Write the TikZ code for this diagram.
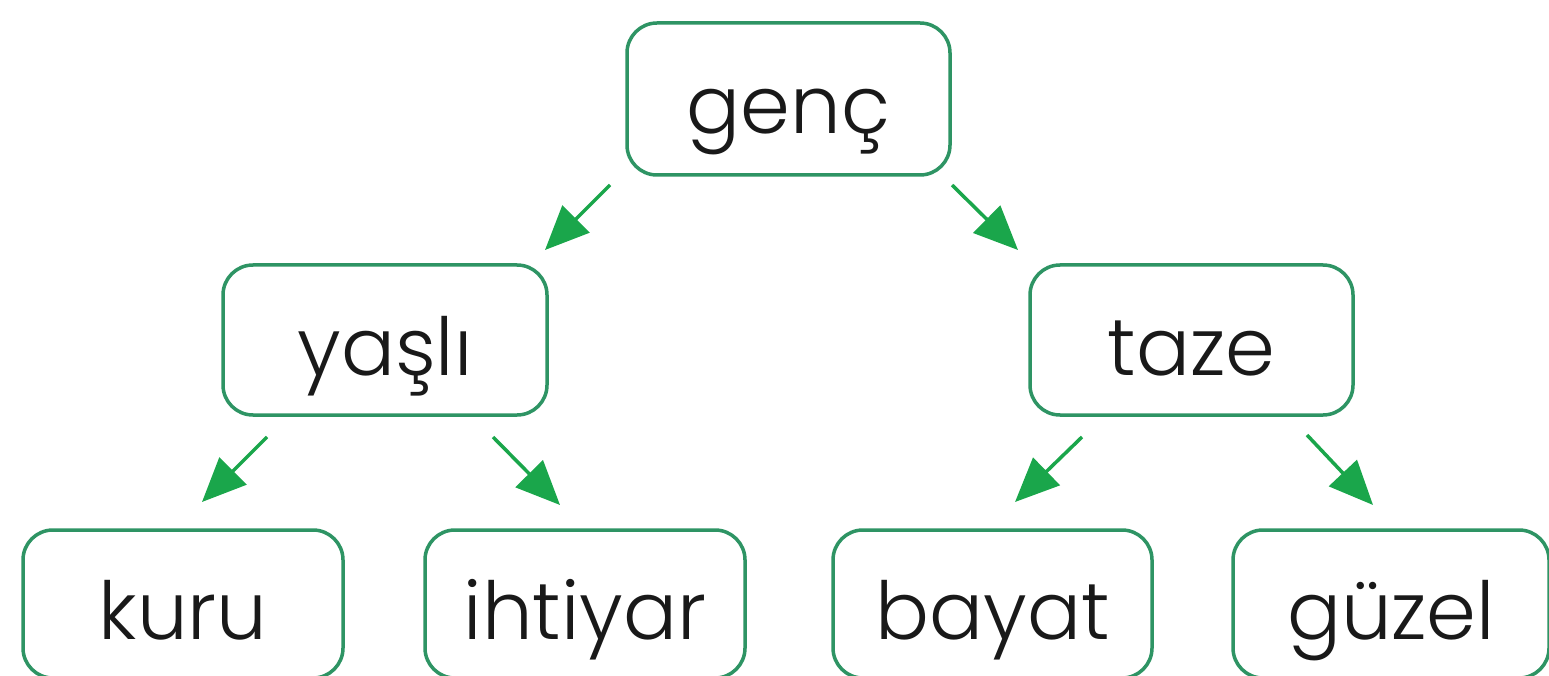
\documentclass[tikz,border=0pt]{standalone}
\usepackage{fontspec}
\setmainfont{Poppins}[UprightFont={* Light}]
\usetikzlibrary{arrows.meta,calc}
\definecolor{boxgreen}{RGB}{46,148,100}
\definecolor{arrgreen}{RGB}{26,166,75}
\definecolor{txt}{RGB}{25,25,25}
\tikzset{
  wordbox/.style={draw=boxgreen, line width=3.5pt, rounded corners=30pt, fill=white,
    inner sep=0pt, outer sep=0pt, text=txt, font=\fontsize{80}{84}\selectfont,
    text height=70pt, text depth=0pt},
  arr/.style={draw=arrgreen, line width=3.5pt, -{Triangle[length=44pt,width=38pt]}}
}
\begin{document}
\begin{tikzpicture}[x=1pt,y=-1pt]
\fill[white] (0,0) rectangle (1549,676);
\useasboundingbox (0,0) rectangle (1549,676);
\node[wordbox, minimum width=323pt, minimum height=152pt] (genc) at (788.5,99) {genç};
\node[wordbox, minimum width=324pt, minimum height=150pt] (yasli) at (385,340) {yaşlı};
\node[wordbox, minimum width=323pt, minimum height=150pt] (taze) at (1191.5,340) {taze};
\node[wordbox, minimum width=320pt, minimum height=148pt] (kuru) at (183,604) {kuru};
\node[wordbox, minimum width=320pt, minimum height=148pt] (ihtiyar) at (585,604) {ihtiyar};
\node[wordbox, minimum width=319pt, minimum height=148pt] (bayat) at (992.5,604) {bayat};
\node[wordbox, minimum width=316pt, minimum height=148pt] (guzel) at (1391,604) {güzel};
\draw[arr] ($(genc.south west)+(-17,10)$) -- ($(yasli.north east)+(-2,-15)$);
\draw[arr] ($(genc.south east)+(2,10)$) -- ($(taze.north west)+(-12,-15)$);
\draw[arr] ($(yasli.south west)+(44,22)$) -- ($(kuru.north)+(19,-28)$);
\draw[arr] ($(yasli.south east)+(-54,22)$) -- ($(ihtiyar.north)+(-25,-25)$);
\draw[arr] ($(taze.south west)+(52,22)$) -- ($(bayat.north)+(22.5,-28)$);
\draw[arr] ($(taze.south east)+(-46,20)$) -- ($(guzel.north)+(-18,-25)$);
\end{tikzpicture}
\end{document}
